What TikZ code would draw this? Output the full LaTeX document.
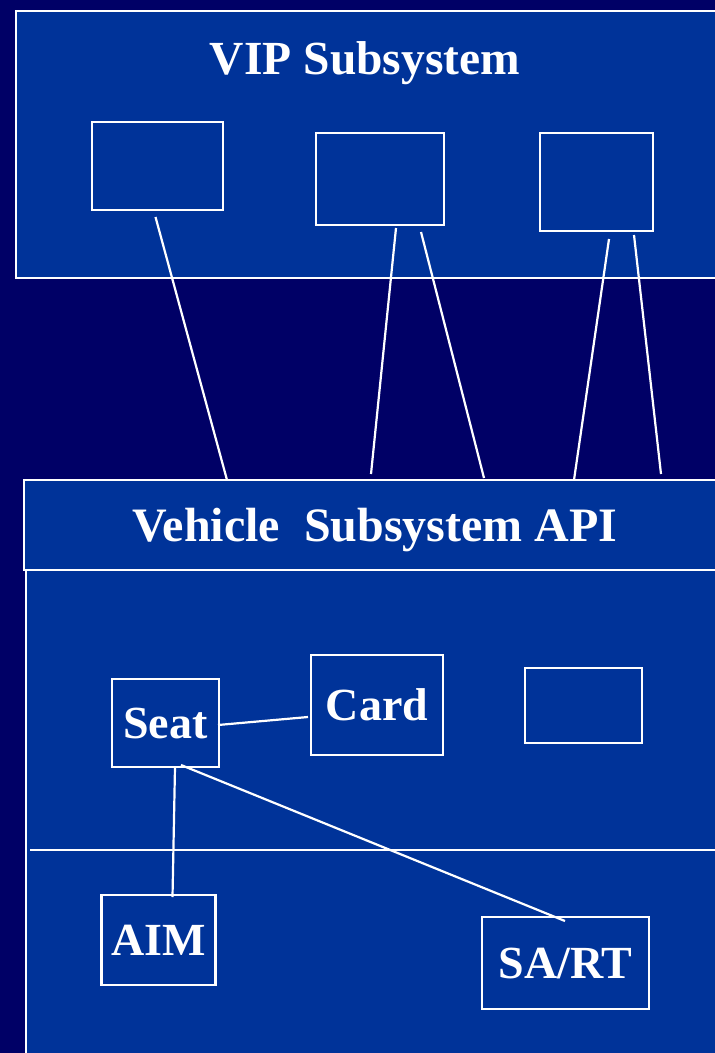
\documentclass[tikz,border=0pt]{standalone}
\usepackage{fontspec}
\setmainfont{Liberation Serif}
\definecolor{navy}{RGB}{0,0,102}
\definecolor{panelblue}{RGB}{0,51,153}
\begin{document}
\begin{tikzpicture}[x=1pt,y=-1pt,
  panel/.style={draw=white,line width=2.2pt,fill=panelblue},
  box/.style={draw=white,line width=2.6pt,rectangle,inner sep=0pt,text=white,
    font=\bfseries\fontsize{46}{50}\selectfont},
  title/.style={text=white,inner sep=0pt,anchor=base,
    font=\bfseries\fontsize{47.5}{52}\selectfont},
  wire/.style={draw=white,line width=2.2pt}]
  % page and background
  \clip (0,0) rectangle (715,1053);
  \fill[navy] (0,0) rectangle (715,1053);

  % panels
  \draw[panel] (16,11) rectangle (740,278);
  \draw[panel] (26,570) rectangle (740,1080);
  \draw[panel] (24,480) rectangle (740,570);
  \coordinate (divL) at (30,850);
  \coordinate (divR) at (740,850);
  \draw[wire] (divL) -- (divR);

  % titles
  \node[title] (viptitle) at (365,74) {VIP Subsystem};
  \node[title,font=\bfseries\fontsize{48}{52}\selectfont] (apititle) at (375,541) {Vehicle\ \ Subsystem API};

  % VIP subsystem components
  \node[box,minimum width=131pt,minimum height=88pt] (v1) at (157.5,166) {};
  \node[box,minimum width=128pt,minimum height=92pt] (v2) at (380,179) {};
  \node[box,minimum width=113pt,minimum height=98pt] (v3) at (596.5,182) {};

  % vehicle subsystem components
  \node[box,minimum width=107pt,minimum height=88pt] (seat) at (165.5,723) {Seat};
  \node[box,minimum width=132pt,minimum height=100pt] (card) at (377,705) {Card};
  \node[box,minimum width=117pt,minimum height=75pt] (v4) at (583.5,705.5) {};
  \node[box,minimum width=114pt,minimum height=90pt] (aim) at (158.5,940) {AIM};
  \node[box,minimum width=167pt,minimum height=92pt] (sart) at (565.5,963) {SA/RT};

  % connector ends
  \coordinate (a1) at (155.5,217);
  \coordinate (b1) at (227,480);
  \coordinate (a2) at (396,228);
  \coordinate (b2) at (371,474);
  \coordinate (a3) at (421,232);
  \coordinate (b3) at (484,478);
  \coordinate (a4) at (609,239);
  \coordinate (b4) at (574,480);
  \coordinate (a5) at (634,235);
  \coordinate (b5) at (661,474);

  \coordinate (s1) at (218,725);
  \coordinate (c1) at (308,717);
  \coordinate (s2) at (175,767);
  \coordinate (m1) at (172.5,897);
  \coordinate (s3) at (181,765);
  \coordinate (r1) at (565,921);

  % connectors
  \draw[wire] (a1) -- (b1);
  \draw[wire] (a2) -- (b2);
  \draw[wire] (a3) -- (b3);
  \draw[wire] (a4) -- (b4);
  \draw[wire] (a5) -- (b5);
  \draw[wire] (s1) -- (c1);
  \draw[wire] (s2) -- (m1);
  \draw[wire] (s3) -- (r1);
\end{tikzpicture}
\end{document}
